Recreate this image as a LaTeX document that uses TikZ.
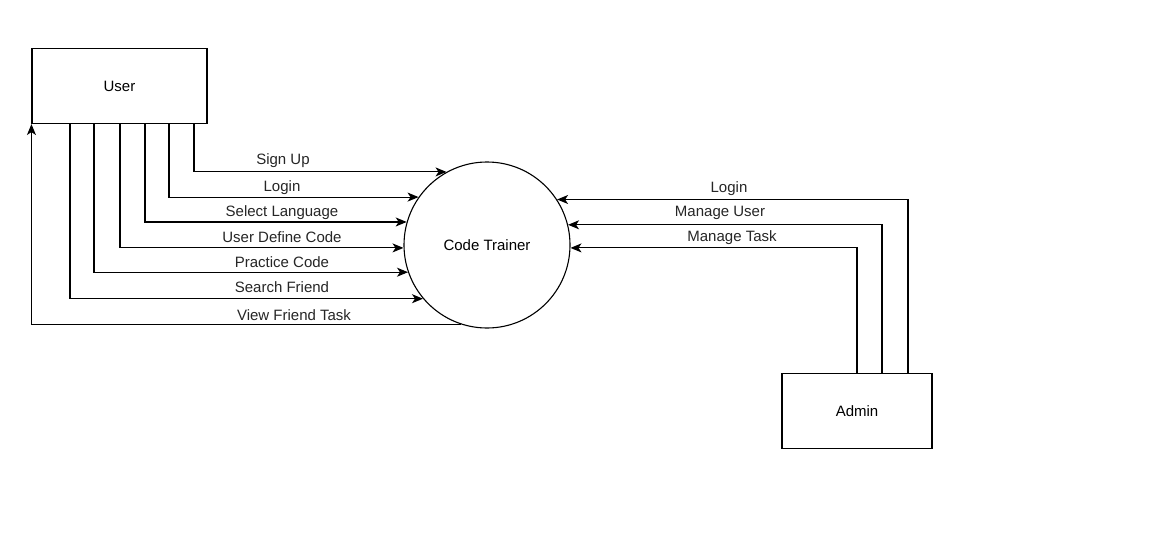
\documentclass[tikz,border=0pt]{standalone}
\usepackage{fontspec}
\setmainfont{Liberation Sans}
\usetikzlibrary{arrows.meta}
\begin{document}
\begin{tikzpicture}[x=1pt,y=-1pt,
  box/.style={draw,line width=1.1pt,minimum width=#1,minimum height=75pt,inner sep=0pt},
  proc/.style={draw,circle,line width=1.1pt,minimum size=166pt,inner sep=0pt},
  arr/.style={line width=1.1pt,-{Stealth[length=11pt,width=9pt,inset=3pt]}},
  lbl/.style={text=black!85,inner sep=1pt},
  every node/.style={font=\fontsize{15}{17}\selectfont}]
\path[use as bounding box] (0,0) rectangle (1172,557);
\fill[white] (0,0) rectangle (1172,557);

\node[box=175pt] (user) at (119.5,86) {User};
\node[box=150pt] (admin) at (857,411) {Admin};
\node[proc] (ct) at (487,245) {Code Trainer};

\coordinate (u1) at (194,123);
\coordinate (u2) at (169,123);
\coordinate (u3) at (145,123);
\coordinate (u4) at (120,123);
\coordinate (u5) at (94,123);
\coordinate (u6) at (70,123);
\coordinate (a1) at (908,373);
\coordinate (a2) at (882,373);
\coordinate (a3) at (857,373);

\draw[arr] (u1) |- (ct.119.8);
\draw[arr] (u2) |- (ct.145.5);
\draw[arr] (u3) |- (ct.164.6);
\draw[arr] (u4) |- (ct.182.1);
\draw[arr] (u5) |- (ct.199.7);
\draw[arr] (u6) |- (ct.220.6);
\draw[arr] (ct.252.1) -| (user.south west);

\draw[arr] (a1) |- (ct.33.66);
\draw[arr] (a2) |- (ct.14.66);
\draw[arr] (a3) |- (ct.-2.76);

\node[lbl] (l1) at (283,160.5) {Sign Up};
\node[lbl] (l2) at (282,187.5) {Login};
\node[lbl] (l3) at (282,212.5) {Select Language};
\node[lbl] (l4) at (282,237.5) {User Define Code};
\node[lbl] (l5) at (282,262.5) {Practice Code};
\node[lbl] (l6) at (282,287.5) {Search Friend};
\node[lbl] (l7) at (294,315.5) {View Friend Task};
\node[lbl] (r1) at (729,188.5) {Login};
\node[lbl] (r2) at (720,212.5) {Manage User};
\node[lbl] (r3) at (732,237.5) {Manage Task};
\end{tikzpicture}
\end{document}
